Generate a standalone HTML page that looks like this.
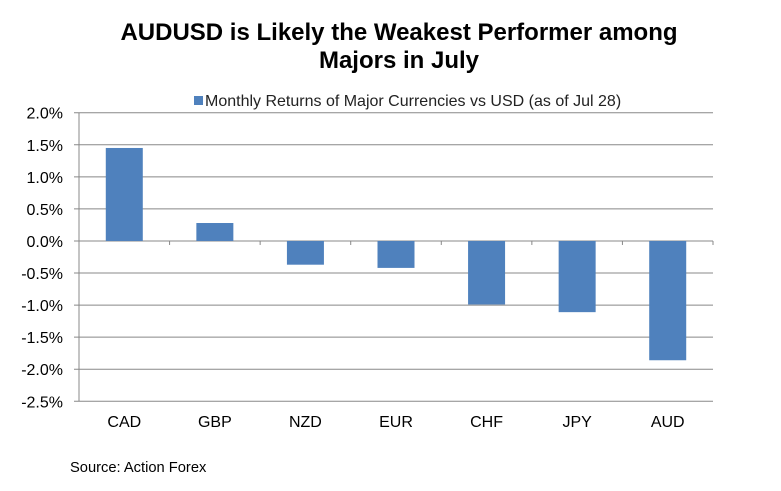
<!DOCTYPE html>
<html><head><meta charset="utf-8"><style>
body{margin:0;background:#fff;width:781px;height:486px;overflow:hidden;font-family:"Liberation Sans",Arial,sans-serif}
</style></head><body>
<svg width="781" height="486">
<text x="399" y="40" text-anchor="middle" font-size="24" font-weight="bold">AUDUSD is Likely the Weakest Performer among</text>
<text x="399" y="68" text-anchor="middle" font-size="24" font-weight="bold">Majors in July</text>
<g>
<rect x="194" y="96" width="9" height="9" fill="#4f81bd"/>
<text x="205" y="106" font-size="16" fill="#222">Monthly Returns of Major Currencies vs USD (as of Jul 28)</text>
</g>
<g id="grid"></g><g id="bars"></g><g id="axes"></g>
<text x="70" y="472" font-size="14.7">Source: Action Forex</text>
</svg>
<script>
const categories=["CAD","GBP","NZD","EUR","CHF","JPY","AUD"];
const values=[1.45,0.28,-0.37,-0.42,-0.99,-1.11,-1.86];
const ticks=[2.0,1.5,1.0,0.5,0.0,-0.5,-1.0,-1.5,-2.0,-2.5];
const NS="http://www.w3.org/2000/svg";
const x0=79,x1=713,yTop=112.7,yBot=401.3,vMax=2,vMin=-2.5;
const y=v=>yTop+(vMax-v)/(vMax-vMin)*(yBot-yTop);
const cw=(x1-x0)/categories.length;
function mk(t,a,p){const e=document.createElementNS(NS,t);for(const k in a)e.setAttribute(k,a[k]);p.appendChild(e);return e;}
const g=document.getElementById('grid'),b=document.getElementById('bars'),ax=document.getElementById('axes');
ticks.forEach(t=>{
 const l=mk('line',{x1:x0-5,x2:x1,y1:y(t),y2:y(t),stroke:'#888','stroke-width':1},g);
 
 
 const tx=mk('text',{x:x0-16,y:y(t)+6,'text-anchor':'end','font-size':16},ax);
 tx.textContent=t.toFixed(1)+'%';
 
 
});
const ya=mk('line',{x1:x0,x2:x0,y1:yTop,y2:yBot,stroke:'#888'},ax);


categories.forEach((c,i)=>{
 const cx=x0+cw*(i+0.5),v=values[i];
 const r=mk('rect',{x:cx-18.5,width:37,y:Math.min(y(v),y(0)),height:Math.abs(y(v)-y(0)),fill:'#4f81bd'},b);
 
 
 const tk=mk('line',{x1:x0+cw*(i+1),x2:x0+cw*(i+1),y1:y(0),y2:y(0)+4,stroke:'#888'},ax);
 
 
 const tx=mk('text',{x:cx,y:427,'text-anchor':'middle','font-size':16},ax);
 tx.textContent=c;
 
 
});
</script>
</body></html>
